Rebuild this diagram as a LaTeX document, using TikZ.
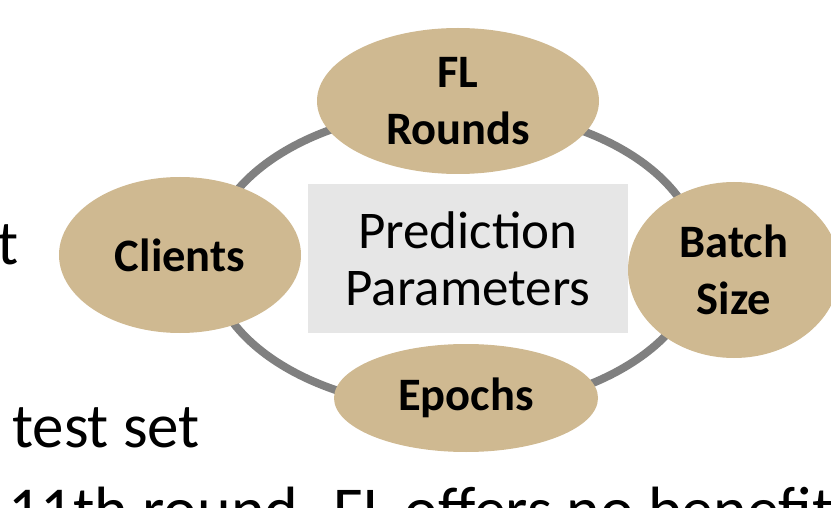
\documentclass[tikz,border=0pt]{standalone}
\usepackage{fontspec}
\setmainfont{Carlito}
\usetikzlibrary{shapes.geometric}
\definecolor{gold}{HTML}{CFB991}
\definecolor{ringgray}{HTML}{808080}
\definecolor{boxgray}{HTML}{E6E6E6}
\tikzset{
  param/.style={ellipse, fill=gold, inner sep=0pt, align=center,
    font=\fontsize{46.5}{57}\selectfont\bfseries},
  centerbox/.style={rectangle, fill=boxgray, inner sep=0pt, align=center,
    font=\fontsize{53}{57}\selectfont},
  bodytext/.style={inner sep=0pt, anchor=base west, font=\fontsize{63}{70}\selectfont}
}
\begin{document}
\begin{tikzpicture}[x=1pt,y=-1pt]
  \useasboundingbox (0,0) rectangle (831,508);
  \clip (0,0) rectangle (831,508);
  % body text of the slide behind the diagram
  \node[bodytext] (tfrag) at (-3,265) {t};
  \node[bodytext] (testset) at (12,447) {test set};
  \node[bodytext, font=\fontsize{64}{70}\selectfont] (remark) at (8,531) {11th round. FL offers no benefit};
  % ring joining the parameters
  \draw[ringgray, line width=8pt] (455,259) ellipse [x radius=245, y radius=150];
  % central box
  \node[centerbox, minimum width=320pt, minimum height=149pt] (center) at (468,258.5)
    {Prediction\\Parameters};
  % parameter ellipses
  \node[param, minimum width=282pt, minimum height=146pt] (rounds) at (458,101) {FL\\Rounds};
  \node[param, minimum width=242pt, minimum height=156pt] (clients) at (180,255) {Clients};
  \node[param, minimum width=212pt, minimum height=176pt] (batch) at (734,270) {Batch\\Size};
  \node[param, minimum width=264pt, minimum height=108pt] (epochs) at (466,398) {Epochs};
\end{tikzpicture}
\end{document}
